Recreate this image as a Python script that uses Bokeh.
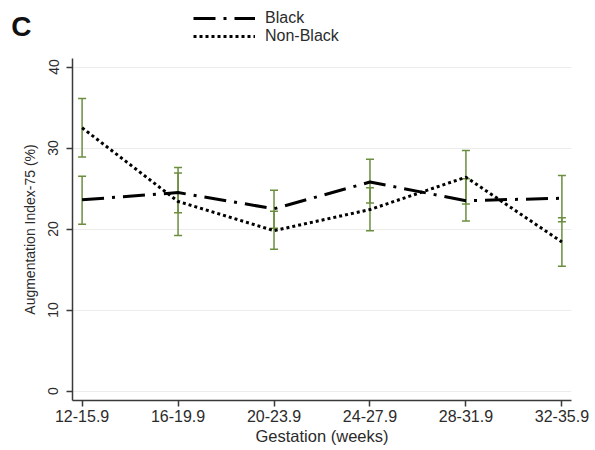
from bokeh.plotting import figure
from bokeh.layouts import column
from bokeh.models import (ColumnDataSource, Whisker, TeeHead, Legend, LegendItem,
                          Range1d, FixedTicker, LinearAxis)
from bokeh.embed import file_html
from bokeh.resources import INLINE

# gestation windows (weeks)
categories = ["12-15.9", "16-19.9", "20-23.9", "24-27.9", "28-31.9", "32-35.9"]

# augmentation index-75 (%) means and 95% CI
black = [23.6, 24.5, 22.5, 25.8, 23.5, 23.8]
black_lo = [20.6, 22.0, 20.1, 23.2, 21.0, 20.9]
black_hi = [26.5, 26.9, 24.8, 28.6, 26.2, 26.6]

nonblack = [32.5, 23.4, 19.8, 22.4, 26.4, 18.4]
nonblack_lo = [28.9, 19.2, 17.5, 19.8, 23.1, 15.4]
nonblack_hi = [36.1, 27.6, 22.2, 25.1, 29.7, 21.4]

y_ticks = [0, 10, 20, 30, 40]

FONT = "Liberation Sans"
TEXT = "#2b2b2b"
GREEN = "#6b8e3f"
BLACK_DASH = "22 8 3 8"
NB_DASH = "3 3"

xs = list(range(len(categories)))
src_b = ColumnDataSource(dict(x=xs, y=black, lo=black_lo, hi=black_hi))
src_n = ColumnDataSource(dict(x=xs, y=nonblack, lo=nonblack_lo, hi=nonblack_hi))

# ---- header strip: panel letter + legend (the main frame clips annotations)
head = figure(width=595, height=58, output_backend="svg", toolbar_location=None,
              x_range=Range1d(0, 499), y_range=Range1d(58, 0),
              x_axis_type=None, y_axis_type=None,
              min_border_left=72, min_border_right=24,
              min_border_top=0, min_border_bottom=0)
head.outline_line_color = None
head.xgrid.visible = False
head.ygrid.visible = False

# legend-only line renderers (nothing to draw)
nan = float("nan")
k_b = head.line(x=[nan], y=[nan], line_color="black", line_width=3,
                line_dash=BLACK_DASH)
k_n = head.line(x=[nan], y=[nan], line_color="black", line_width=3,
                line_dash=NB_DASH)

legend = Legend(items=[LegendItem(label="Black", renderers=[k_b]),
                       LegendItem(label="Non-Black", renderers=[k_n])],
                location=(121, 13), orientation="vertical",
                glyph_width=62, glyph_height=14, label_height=14,
                label_standoff=10, spacing=0, padding=0, margin=0,
                border_line_color=None, background_fill_alpha=0,
                label_text_font=FONT, label_text_font_size="16px",
                label_text_color=TEXT)
head.add_layout(legend)

# panel letter "C" sits in the header's left margin
letter = LinearAxis(ticker=FixedTicker(ticks=[26]),
                    major_label_overrides={26: "C"},
                    axis_line_color=None, major_tick_line_color=None,
                    major_tick_out=0, major_tick_in=0,
                    minor_tick_out=0, minor_tick_in=0,
                    major_label_standoff=41,
                    major_label_text_font=FONT,
                    major_label_text_font_size="28px",
                    major_label_text_font_style="bold",
                    major_label_text_color="#111111")
head.add_layout(letter, "left")

# ---- main chart
p = figure(width=595, height=392, output_backend="svg", toolbar_location=None,
           x_range=Range1d(-0.1, 5.1), y_range=Range1d(-1.17, 41.05),
           min_border_left=72, min_border_right=24, min_border_top=0,
           min_border_bottom=50)
p.outline_line_color = None
p.background_fill_color = "white"
p.border_fill_color = "white"

# error bars
for src in (src_b, src_n):
    w = Whisker(base="x", lower="lo", upper="hi", source=src, dimension="height",
                line_color=GREEN, line_width=1.5,
                upper_head=TeeHead(size=8, line_color=GREEN, line_width=1.5),
                lower_head=TeeHead(size=8, line_color=GREEN, line_width=1.5))
    p.add_layout(w)

p.line("x", "y", source=src_b, line_color="black", line_width=3,
       line_dash=BLACK_DASH)
p.line("x", "y", source=src_n, line_color="black", line_width=3,
       line_dash=NB_DASH)

# axes
p.xgrid.visible = False
p.ygrid.grid_line_color = "#ececec"
p.ygrid.grid_line_width = 1

p.xaxis.ticker = FixedTicker(ticks=xs)
p.xaxis.major_label_overrides = {i: c for i, c in enumerate(categories)}
p.yaxis.ticker = FixedTicker(ticks=y_ticks)
p.yaxis.major_label_orientation = "vertical"

for ax in (p.xaxis[0], p.yaxis[0]):
    ax.axis_line_color = "#3a3a3a"
    ax.axis_line_width = 1.5
    ax.major_tick_line_color = "#3a3a3a"
    ax.major_tick_line_width = 1.5
    ax.major_tick_out = 6
    ax.major_tick_in = 0
    ax.minor_tick_out = 0
    ax.minor_tick_in = 0
    ax.major_label_text_font = FONT
    ax.major_label_text_color = TEXT
    ax.axis_label_text_font = FONT
    ax.axis_label_text_color = TEXT
    ax.axis_label_text_font_style = "normal"

p.xaxis.axis_label = "Gestation (weeks)"
p.xaxis.major_label_text_font_size = "16px"
p.xaxis.axis_label_text_font_size = "16.5px"
p.xaxis.major_label_standoff = 3
p.xaxis.axis_label_standoff = 2

p.yaxis.axis_label = "Augmentation Index-75 (%)"
p.yaxis.major_label_text_font_size = "14px"
p.yaxis.axis_label_text_font_size = "14px"
p.yaxis.major_label_standoff = 8
p.yaxis.axis_label_standoff = 8

layout = column(head, p, spacing=0)

open("out.html", "w").write(file_html(layout, INLINE))
